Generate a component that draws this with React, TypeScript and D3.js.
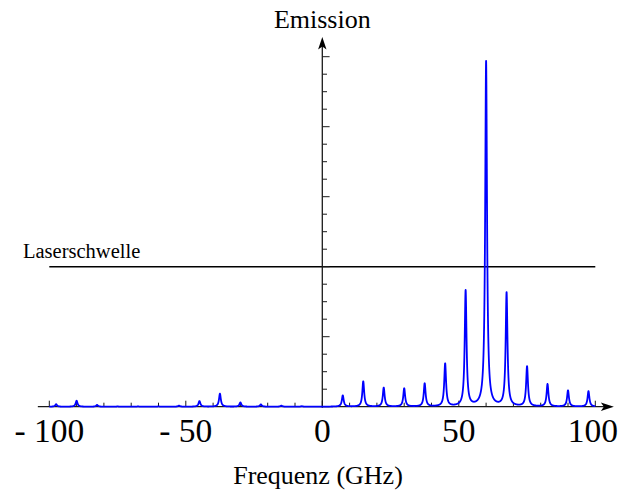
import React from "react";
import * as d3 from "d3";

// ---- data ----
const peakFreqs = [-97.5, -90, -82.5, -75, -67.5, -60, -52.5, -45, -37.5, -30, -22.5, -15, -7.5,
  7.5, 15, 22.5, 30, 37.5, 45, 52.5, 60, 67.5, 75, 82.5, 90, 97.5];
const peakHeights = [0.035, 0.085, 0.025, 0.004, 0.004, 0.004, 0.015, 0.08, 0.185, 0.06, 0.032, 0.014, 0.006,
  0.16, 0.36, 0.27, 0.26, 0.33, 0.61, 1.65, 4.93, 1.62, 0.57, 0.32, 0.23, 0.22];
const lineWidthGHz = 0.4; // Lorentzian half width
const laserThreshold = 2;
const xTickValues = d3.range(-100, 101, 10);
const xTickLabels = [
  { v: -100, t: "- 100" },
  { v: -50, t: "- 50" },
  { v: 0, t: "0" },
  { v: 50, t: "50" },
  { v: 100, t: "100" },
];
const yTickValues = d3.range(0, 5.01, 0.25);
const xTitle = "Frequenz (GHz)";
const yTitle = "Emission";
const thresholdLabel = "Laserschwelle";

const W = 619;
const H = 496;
const FONT = '"Liberation Serif", "Times New Roman", Times, serif';

function spectrum(f: number): number {
  let s = 0;
  const g2 = lineWidthGHz * lineWidthGHz;
  for (let i = 0; i < peakFreqs.length; i++) {
    const d = f - peakFreqs[i];
    s += (peakHeights[i] * g2) / (d * d + g2);
  }
  return s;
}

export default function App() {
  const x = d3.scaleLinear().domain([0, 100]).range([322.3, 595.3]);
  const y = d3.scaleLinear().domain([0, 1]).range([406.7, 336.7]);

  const fs = d3.range(-100, 100.0001, 0.01);
  const pts: [number, number][] = fs.map((f) => [f, spectrum(f)]);
  const line = d3
    .line<[number, number]>()
    .x((d) => x(d[0]))
    .y((d) => y(d[1]));

  const x0 = x(0);
  const y0 = y(0);
  const axisColor = "#1a1a1a";
  const yTop = y(5.28);
  const xRight = x(106.8);
  const xLeft = x(-104.2);
  const textStyle = { fontFamily: FONT, whiteSpace: "pre" as const };

  return (
    <svg
      width={W}
      height={H}
      style={{ position: "absolute", left: 0, top: 0, display: "block", background: "#fff" }}
    >
      {/* threshold line */}
      <line
        x1={x(-100)}
        x2={x(100)}
        y1={y(laserThreshold)}
        y2={y(laserThreshold)}
        stroke="#000"
        strokeWidth={1.5}
      />
      <text x={23} y={258} fontSize={20.5} fill="#000" style={textStyle}>
        {thresholdLabel}
      </text>

      {/* x axis */}
      <line x1={xLeft} x2={xRight - 6} y1={y0} y2={y0} stroke={axisColor} strokeWidth={1.3} />
      <path
        d={`M${xRight},${y0} L${xRight - 13},${y0 - 4.2} L${xRight - 10},${y0} L${xRight - 13},${y0 + 4.2} Z`}
        fill="#000"
      />
      {xTickValues.map((v) => {
        const major = v % 50 === 0;
        return (
          <line
            key={"xt" + v}
            x1={x(v)}
            x2={x(v)}
            y1={y0}
            y2={y0 - (major ? 6 : 4)}
            stroke={axisColor}
            strokeWidth={1}
          />
        );
      })}
      {xTickLabels.map((d) => (
        <text
          key={"xl" + d.v}
          x={d.v === 100 ? x(d.v) - 2.5 : x(d.v)}
          y={441.7}
          textAnchor="middle"
          fontSize={33.5}
          fill="#000"
          style={textStyle}
        >
          {d.t}
        </text>
      ))}

      {/* y axis */}
      <line x1={x0} x2={x0} y1={y0 + 1} y2={yTop + 6} stroke={axisColor} strokeWidth={1.3} />
      <path
        d={`M${x0},${yTop} L${x0 - 4.2},${yTop + 12.5} L${x0},${yTop + 9.5} L${x0 + 4.2},${yTop + 12.5} Z`}
        fill="#000"
      />
      {yTickValues.map((v, i) => {
        const major = i % 4 === 0;
        return (
          <line
            key={"yt" + i}
            x1={x0}
            x2={x0 + (major ? 7.3 : 4.7)}
            y1={y(v)}
            y2={y(v)}
            stroke={axisColor}
            strokeWidth={1}
          />
        );
      })}

      {/* spectrum */}
      <path d={line(pts) || ""} fill="none" stroke="#0000ff" strokeWidth={1.8} strokeLinejoin="round" />

      {/* titles */}
      <text x={x0} y={28} textAnchor="middle" fontSize={26} fill="#000" style={textStyle}>
        {yTitle}
      </text>
      <text x={318} y={484} textAnchor="middle" fontSize={26} fill="#000" style={textStyle}>
        {xTitle}
      </text>
    </svg>
  );
}
